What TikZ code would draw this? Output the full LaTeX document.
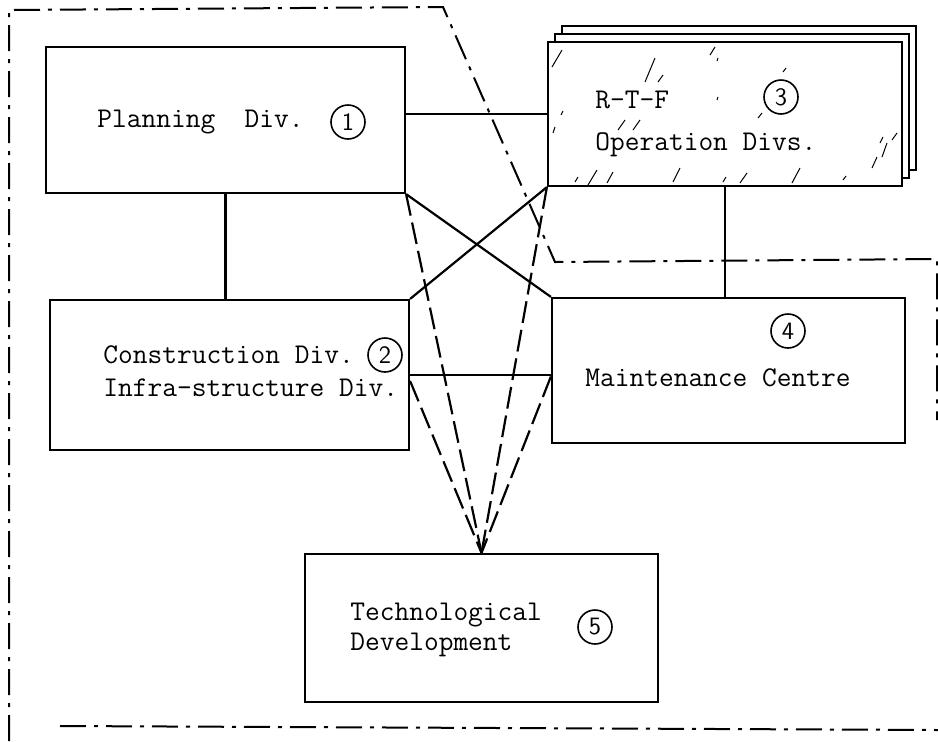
\documentclass[tikz,border=0pt]{standalone}
\usepackage{fontspec}
\usepackage{tikz}
\usetikzlibrary{positioning, calc}
\tikzstyle{link} = [line width=1.1pt]
\tikzstyle{dashlink} = [line width=1.1pt, dash pattern=on 11pt off 3.5pt]
\tikzstyle{frame} = [line width=1pt, dash pattern=on 13pt off 4pt on 2pt off 4pt]
\tikzstyle{hatch} = [line width=0.5pt]

\begin{document}
\begin{tikzpicture}[
    x=0.5pt, y=-0.5pt,
    divbox/.style={rectangle, draw, line width=1.1pt, fill=white, inner sep=0pt},
    divtext/.style={anchor=west, inner sep=0pt, font=\ttfamily\fontsize{14.3}{17}\selectfont},
    num/.style={circle, draw, line width=0.8pt, inner sep=0pt, minimum size=17pt, font=\sffamily\fontsize{12.5}{14}\selectfont}
  ]
    \useasboundingbox (0,0) rectangle (938,741);

    % Boundary
    \draw[frame] (9,741) -- (9,10) -- (443,7) -- (555,262) -- (937,259) -- (937,420);
    \draw[frame] (60,726) -- (938,730);

    % Divisions
    \node[divbox, minimum width=179.5pt, minimum height=73pt] (plan) at (225.5,120) {};
    \node[divbox, minimum width=177pt, minimum height=72pt] (ops3) at (739,98) {};
    \node[divbox, minimum width=177pt, minimum height=72pt] (ops2) at (732,106) {};
    \node[divbox, minimum width=177pt, minimum height=72pt] (ops) at (725,114) {};
    \node[divbox, minimum width=179.5pt, minimum height=75pt] (cons) at (229.5,375) {};
    \node[divbox, minimum width=176.5pt, minimum height=72.5pt] (maint) at (728.5,370.5) {};
    \node[divbox, minimum width=176.5pt, minimum height=74pt] (tech) at (481.5,628) {};

    % Hatching on the operation divisions
    \foreach \xa/\ya/\xb/\yb in {552/67/562/50, 645/82/655/58, 658/82/663/75, 710/55/715/47,
                       783/72/786/68, 618/130/625/120, 633/130/640/120, 758/118/762/113,
                       553/133/555/127, 561/115/563/111, 575/182/578/177, 588/185/597/170,
                       607/183/613/172, 673/182/680/168, 723/182/726/177, 740/183/747/173,
                       792/183/800/168, 843/180/846/176, 872/168/877/157, 882/157/887/143,
                       880/143/883/137, 892/140/897/133, 717/61/718/58, 717/100/718/97}
      \draw[hatch] (\xa,\ya) -- (\xb,\yb);

    % Texts
    \node[divtext] (plantxt) at (97,122) {Planning\ \ Div.};
    \node[num] (n1) at (348,122) {1};
    \node[divtext] (opstxt1) at (595,100) {R-T-F};
    \node[num] (n3) at (781,97) {3};
    \node[divtext] (opstxt2) at (595,145) {Operation Divs.};
    \node[divtext] (constxt1) at (103,355) {Construction Div.};
    \node[num] (n2) at (385,355) {2};
    \node[divtext] (constxt2) at (103,388) {Infra-structure Div.};
    \node[num] (n4) at (788,331) {4};
    \node[divtext] (mainttxt) at (585,378) {Maintenance Centre};
    \node[divtext] (techtxt1) at (350,615) {Technological};
    \node[divtext] (techtxt2) at (350,645) {Development};
    \node[num] (n5) at (595,627) {5};

    % Links
    \draw[link] (ops.west) -- (ops.west -| plan.east);
    \draw[link] (plan.south) -- (plan.south |- cons.north);
    \draw[link] (ops.south) -- (ops.south |- maint.north);
    \draw[link] (cons.east) -- (cons.east -| maint.west);
    \draw[link] (plan.south east) -- (maint.north west);
    \draw[link] (ops.south west) -- (cons.north east);

    % Links to technological development
    \draw[dashlink] (plan.south east) -- (tech.north);
    \draw[dashlink] (ops.south west) -- (tech.north);
    \draw[dashlink] ([yshift=-3pt]cons.east) -- (tech.north);
    \draw[dashlink] ([yshift=-3pt]maint.west) -- (tech.north);
  \end{tikzpicture}
\end{document}
